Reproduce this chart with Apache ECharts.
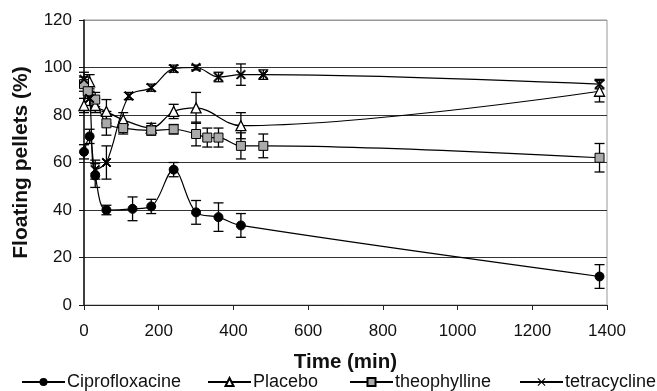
<!DOCTYPE html>
<html>
<head>
<meta charset="utf-8">
<script src="https://cdn.jsdelivr.net/npm/echarts@6/dist/echarts.min.js"></script>
<style>html,body{margin:0;padding:0;background:#fff;}#c{width:657px;height:391px;}</style>
</head>
<body>
<div id="c"></div>
<script>
// Data
const ciproT = [0, 15, 30, 60, 130, 180, 240, 300, 360, 420, 1380];
const ciproY = [64.5, 71, 54.5, 40, 40.5, 41.5, 57, 39, 37, 33.5, 12];
const ciproE = [3, 3, 5, 2, 5, 3, 3, 5, 6, 5, 5];

const placeboT = [0, 15, 30, 60, 105, 180, 240, 300, 420, 1380];
const placeboY = [84, 94, 84, 81.5, 78, 74.5, 81.5, 83, 75.5, 90];
const placeboE = [3, 3, 3, 5, 3, 2, 3, 6.5, 5.5, 4.5];

const theoT = [0, 10, 30, 60, 105, 180, 240, 300, 330, 360, 420, 480, 1380];
const theoY = [93, 90, 86.5, 76.5, 74.5, 73.5, 74, 72, 70.5, 70.5, 67, 67, 62];
const theoE = [3, 3, 3, 5, 2.5, 2, 2, 5, 4, 4, 5.5, 5, 6];

const tetraT = [0, 15, 30, 60, 120, 180, 240, 300, 360, 420, 480, 1380];
const tetraY = [95, 87, 57, 60, 88, 91.5, 99.5, 100, 96, 97, 97, 93];
const tetraE = [3, 3, 4, 7, 1.5, 1.5, 1.5, 1, 2, 4.5, 2, 2];

const names = ['Ciprofloxacine', 'Placebo', 'theophylline', 'tetracycline'];
const xTicks = [0, 200, 400, 600, 800, 1000, 1200, 1400];
const yTicks = [0, 20, 40, 60, 80, 100, 120];

const crossPath = 'path://M0,1L1,0L5,4L9,0L10,1L6,5L10,9L9,10L5,6L1,10L0,9L4,5Z';

function pairs(t, y) { return t.map((v, i) => [v, y[i]]); }
function triples(t, y, e) { return t.map((v, i) => [v, y[i], e[i]]); }

function errRender(params, api) {
  const x = api.value(0), y = api.value(1), e = api.value(2);
  const top = api.coord([x, y + e]);
  const bot = api.coord([x, y - e]);
  const hw = 5;
  const st = { stroke: '#000', lineWidth: 1.3 };
  return {
    type: 'group',
    children: [
      { type: 'line', shape: { x1: top[0], y1: top[1], x2: bot[0], y2: bot[1] }, style: st },
      { type: 'line', shape: { x1: top[0] - hw, y1: top[1], x2: top[0] + hw, y2: top[1] }, style: st },
      { type: 'line', shape: { x1: bot[0] - hw, y1: bot[1], x2: bot[0] + hw, y2: bot[1] }, style: st }
    ]
  };
}

function errSeries(name, t, y, e) {
  return {
    type: 'custom', name: name + ' err', renderItem: errRender,
    data: triples(t, y, e), z: 2, silent: true,
    encode: { x: 0, y: 1 }
  };
}

const lineStyle = { color: '#000', width: 1.2 };
const FONT = 'Liberation Sans, Arial, sans-serif';
const legendLefts = [16, 202, 344, 514];

const option = {
  animation: false,
  backgroundColor: '#fff',
  textStyle: { fontFamily: FONT },
  grid: { left: 84, right: 50, top: 20, bottom: 86, show: true, borderColor: '#999', borderWidth: 1, backgroundColor: 'transparent' },
  legend: names.map((n, i) => ({
    data: [n], bottom: -5, left: legendLefts[i], itemWidth: 43, itemHeight: 10,
    textStyle: { fontSize: 18, color: '#111', fontFamily: FONT, padding: [0, 0, 0, -3] }
  })),
  xAxis: {
    type: 'value', min: xTicks[0], max: xTicks[xTicks.length - 1], interval: 200,
    name: 'Time (min)', nameLocation: 'middle', nameGap: 47,
    nameTextStyle: { fontSize: 20.5, fontWeight: 'bold', color: '#111', fontFamily: FONT },
    axisLine: { show: true, lineStyle: { color: '#222', width: 1 } },
    axisTick: { show: true, length: 5, lineStyle: { color: '#222' } },
    axisLabel: { fontSize: 17, color: '#111', margin: 18, formatter: v => String(v) },
    splitLine: { show: false }
  },
  yAxis: {
    type: 'value', min: yTicks[0], max: yTicks[yTicks.length - 1], interval: 20,
    name: 'Floating pellets (%)', nameLocation: 'middle', nameGap: 52,
    nameTextStyle: { fontSize: 21, fontWeight: 'bold', color: '#111', fontFamily: FONT },
    axisLine: { show: true, lineStyle: { color: '#111', width: 1.5 } },
    axisTick: { show: true, length: 5, lineStyle: { color: '#111' } },
    axisLabel: { fontSize: 17, color: '#111', margin: 12, formatter: v => String(v) },
    splitLine: { show: true, lineStyle: { color: ['#333', '#333', '#333', '#333', '#333', '#333', '#999'], width: 1.2 } }
  },
  series: [
    errSeries(names[0], ciproT, ciproY, ciproE),
    errSeries(names[1], placeboT, placeboY, placeboE),
    errSeries(names[2], theoT, theoY, theoE),
    errSeries(names[3], tetraT, tetraY, tetraE),
    {
      type: 'line', name: names[0], data: pairs(ciproT, ciproY), smooth: 0.35, z: 3,
      symbol: 'circle', symbolSize: 9, lineStyle: lineStyle,
      itemStyle: { color: '#000', borderColor: '#000' }
    },
    {
      type: 'line', name: names[1], data: pairs(placeboT, placeboY), smooth: 0.35, z: 3,
      symbol: 'triangle', symbolSize: 10, lineStyle: lineStyle,
      itemStyle: { color: '#fff', borderColor: '#000', borderWidth: 1.3 }
    },
    {
      type: 'line', name: names[2], data: pairs(theoT, theoY), smooth: 0.35, z: 3,
      symbol: 'rect', symbolSize: 9, lineStyle: lineStyle,
      itemStyle: { color: '#aaa', borderColor: '#000', borderWidth: 1 }
    },
    {
      type: 'line', name: names[3], data: pairs(tetraT, tetraY), smooth: 0.35, z: 3,
      symbol: crossPath, symbolSize: 9, lineStyle: lineStyle,
      itemStyle: { color: '#000', borderColor: '#000' }
    }
  ]
};

const chart = echarts.init(document.getElementById('c'), null, { renderer: 'canvas' });
chart.setOption(option);
</script>
</body>
</html>
